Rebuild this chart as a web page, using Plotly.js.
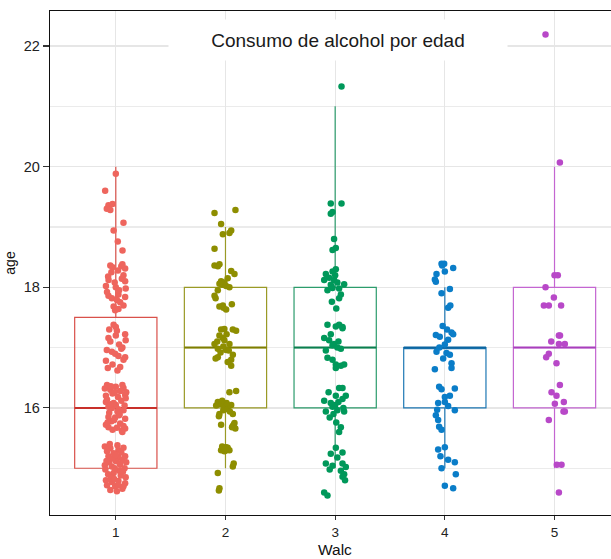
<!DOCTYPE html>
<html>
<head>
<meta charset="utf-8">
<script src="https://cdn.plot.ly/plotly-3.0.1.min.js"></script>
<style>html,body{margin:0;padding:0;background:#fff;}#chart{width:611px;height:559px;}</style>
</head>
<body>
<div id="chart"></div>
<script>
// ---- data ----
const walcLabels = ['1', '2', '3', '4', '5'];
const walcPos = [1, 2, 3, 4, 5];
const q1 = [15, 16, 16, 16, 16];
const medians = [16, 17, 17, 17, 17];
const q3 = [17.5, 18, 18, 17, 18];
const lowerWhisker = [15, 15, 15, 15, 15];
const upperWhisker = [20, 19, 21, 18, 20];

// jittered points: horizontal offset and age
const jit1dx = [0.0,-0.097,-0.067,-0.082,-0.03,0.07,-0.02,0.018,0.061,-0.05,
 -0.05,-0.03,0.05,0.085,-0.07,-0.066,0.07,0.085,0.055,-0.067,-0.036,0.024,0.085,0.01,-0.02,-0.006,0.07,0.024,0.04,-0.09,0.0,0.03,-0.04,0.02,0.09,-0.08,0.06,-0.01,
 -0.02,0.0,0.0,-0.067,0.085,-0.082,-0.036,-0.006,0.024,0.085,0.07,-0.073,0.04,0.03,-0.05,0.06,-0.09,0.01,0.09,-0.03,0.05,-0.06,0.015,
 -0.1,-0.05,0.0,0.07,-0.09,0.085,-0.08,0.04,-0.03,0.02,-0.067,0.024,-0.036,0.07,0.0,-0.09,0.05,-0.02,0.08,-0.06,-0.067,-0.006,0.085,0.03,-0.04,-0.067,0.01,0.085,0.055,-0.03,-0.09,0.04,-0.08,0.09,-0.01,0.06,-0.05,0.015,-0.075,0.07,0.095,-0.045,0.035,-0.015,0.06,
 -0.1,-0.05,0.024,0.07,-0.067,0.024,0.085,-0.1,-0.036,0.04,-0.09,-0.036,0.024,0.085,-0.006,-0.08,0.01,0.06,-0.05,0.09,-0.02,0.0,-0.06,0.06,0.05,-0.08,0.03,-0.02,0.08,-0.07,0.015,-0.03,0.095,-0.095,0.045,-0.045,0.07,-0.015,0.0,0.035,-0.055,0.065,-0.085,0.02,-0.01];
const jit1age = [19.88,19.60,19.36,19.30,19.38,19.07,18.94,18.76,18.61,19.28,
 18.36,18.33,18.35,18.31,18.18,18.12,18.20,18.10,18.14,17.86,17.82,17.88,17.84,17.79,17.68,17.62,17.70,17.64,17.75,18.02,18.00,17.95,18.25,18.28,17.98,17.92,18.38,18.08,
 17.38,17.34,17.20,17.16,17.22,16.96,16.93,16.90,16.86,16.84,16.80,16.66,16.68,17.05,17.10,17.00,16.78,17.28,17.12,16.72,16.98,17.30,16.62,
 16.32,16.30,16.35,16.33,16.20,16.22,16.38,16.28,16.24,16.18,16.02,15.98,16.00,15.96,16.05,16.10,16.12,16.08,16.04,15.92,15.85,15.84,15.82,15.88,15.78,15.68,15.67,15.66,15.62,15.64,15.72,15.74,16.14,16.16,16.26,16.38,16.06,15.94,15.76,15.70,16.26,16.36,15.90,15.80,15.60,
 15.36,15.33,15.30,15.34,15.20,15.18,15.20,15.05,15.03,15.06,14.80,14.77,14.79,14.75,14.70,14.72,14.62,14.66,14.64,14.85,15.25,15.12,15.10,15.14,15.26,15.28,14.96,14.92,15.00,14.90,15.38,15.16,15.10,14.98,14.88,14.84,14.70,14.82,15.22,15.08,15.40,14.94,15.12,14.72,15.00];

const jit2dx = [-0.1,0.091,-0.04,-0.024,0.036,0.052,-0.1,
 -0.1,-0.07,-0.055,0.052,0.082,-0.04,-0.01,-0.024,0.006,0.036,-0.055,-0.1,-0.09,-0.024,-0.018,-0.055,0.058,0.006,0.02,-0.07,
 -0.04,-0.01,0.067,0.097,-0.055,-0.024,-0.01,0.036,-0.1,-0.07,0.006,0.067,-0.09,-0.07,0.052,0.052,-0.02,0.01,-0.045,0.03,-0.075,0.02,
 0.036,0.097,-0.07,-0.04,-0.01,0.052,0.067,-0.055,-0.04,0.067,0.082,0.0,-0.02,0.02,0.09,0.075,-0.085,0.01,-0.03,0.04,-0.06,0.06,
 -0.024,0.006,0.036,-0.04,0.067,-0.07,-0.055,-0.06,0.01,-0.01,0.02,-0.03,0.075,0.0];
const jit2age = [19.23,19.28,19.05,18.88,18.90,18.94,18.64,
 18.36,18.35,18.38,18.27,18.22,18.10,18.08,18.04,18.02,18.00,18.06,17.86,17.82,17.70,17.66,17.68,17.72,17.63,18.15,17.95,
 17.30,17.31,17.30,17.28,17.20,17.16,17.12,17.06,17.06,16.98,16.96,16.88,16.82,16.84,16.80,16.70,17.02,17.22,16.92,16.95,17.10,16.76,
 16.26,16.28,16.10,16.06,16.00,16.05,15.90,15.90,15.72,15.70,15.75,16.02,15.96,15.98,15.66,15.72,16.04,16.08,16.12,15.94,15.86,15.68,
 15.33,15.35,15.30,15.30,15.03,14.92,14.67,14.63,15.30,15.28,15.34,15.36,15.08,15.32];

const jit3dx = [0.058,
 -0.04,0.058,-0.024,-0.04,-0.01,0.006,-0.024,
 0.006,-0.085,-0.024,-0.055,-0.01,-0.1,-0.04,0.082,0.036,-0.024,0.052,0.036,-0.03,0.0,0.02,-0.07,0.01,
 -0.07,0.036,0.067,0.006,0.067,-0.1,-0.055,-0.01,0.02,0.052,-0.085,-0.024,-0.07,-0.024,0.006,0.052,0.082,0.006,-0.04,0.03,
 0.036,0.067,0.006,0.097,-0.1,0.067,-0.024,-0.085,0.02,0.082,0.052,0.036,-0.04,0.0,-0.06,0.03,-0.015,0.075,-0.05,0.01,
 0.006,-0.04,0.067,-0.085,0.067,-0.024,0.097,0.052,0.082,0.067,-0.1,-0.07,0.02,-0.05,0.09];
const jit3age = [21.33,
 19.39,19.39,19.25,19.22,18.80,18.65,18.62,
 18.30,18.22,18.26,18.16,18.12,18.12,18.04,18.05,17.98,17.99,17.88,17.82,17.76,18.20,18.08,17.95,17.65,
 17.38,17.38,17.34,17.35,17.32,17.16,17.12,17.06,17.00,16.98,16.95,17.04,16.83,16.80,16.72,16.70,16.72,16.66,17.22,17.10,
 16.33,16.33,16.20,16.20,16.12,16.15,16.02,15.94,15.96,15.94,15.68,15.60,16.08,16.05,16.26,16.10,15.90,16.00,15.84,15.76,
 15.34,15.24,15.26,15.08,15.08,15.04,15.02,14.96,14.90,14.86,14.60,14.55,15.18,14.98,14.80];

const jit4dx = [-0.03,-0.006,-0.024,0.076,0.0,-0.076,-0.091,-0.082,0.046,-0.03,0.03,0.05,
 -0.02,-0.082,-0.046,0.061,0.076,0.03,-0.076,0.015,0.046,-0.015,0.061,0.061,-0.091,0.0,-0.05,0.02,
 -0.052,-0.03,0.091,0.046,0.0,-0.061,-0.07,0.03,0.091,-0.082,-0.061,-0.052,-0.03,0.0,
 -0.061,0.0,0.03,0.091,-0.03,0.1,0.0,0.076,-0.04];
const jit4age = [18.39,18.39,18.36,18.32,18.26,18.22,18.13,18.09,17.97,17.90,17.66,17.70,
 17.36,17.21,17.18,17.25,17.22,17.13,16.93,16.91,16.88,16.82,16.74,16.66,16.64,17.05,17.00,17.30,
 16.35,16.31,16.32,16.20,16.18,16.08,15.97,16.03,15.96,15.88,15.80,15.69,15.64,16.10,
 15.31,15.35,15.14,15.10,15.00,14.90,14.71,14.67,15.20];

const jit5dx = [-0.082,0.049,0.0,0.03,-0.082,-0.006,-0.097,-0.052,0.06,0.04,0.05,-0.03,0.04,0.094,-0.052,-0.076,0.018,
 0.049,-0.027,0.018,0.085,0.003,0.082,0.094,-0.052,0.021,0.064,0.04];
const jit5age = [22.19,20.07,18.20,18.20,18.00,17.83,17.70,17.70,17.70,17.20,17.20,17.10,17.06,17.06,16.90,16.84,16.74,
 16.38,16.26,16.20,16.10,16.07,15.94,15.94,15.80,15.06,15.06,14.60];

const jitDx = [jit1dx, jit2dx, jit3dx, jit4dx, jit5dx];
const jitAge = [jit1age, jit2age, jit3age, jit4age, jit5age];

// ---- styles ----
const pointColors = ['#EE655D', '#8E8E00', '#00985A', '#0A7DC8', '#B848C8'];
const lineColors = ['#D9514A', '#9A9A26', '#2C9C6C', '#1E78B4', '#C466D1'];
const medianColors = ['#C8302A', '#7E7E00', '#0A7E4E', '#0B65A0', '#A83EBC'];

const traces = [];
for (let i = 0; i < 5; i++) {
  traces.push({
    type: 'box', x: [walcPos[i]], q1: [q1[i]], median: [medians[i]], q3: [q3[i]],
    lowerfence: [lowerWhisker[i]], upperfence: [upperWhisker[i]],
    width: 0.75, whiskerwidth: 0, boxpoints: false,
    line: {color: lineColors[i], width: 1.2},
    fillcolor: 'rgba(255,255,255,0)', hoverinfo: 'skip', showlegend: false
  });
  // thicker median line
  traces.push({
    type: 'box', x: [walcPos[i]], q1: [medians[i]], median: [medians[i]], q3: [medians[i]],
    lowerfence: [medians[i]], upperfence: [medians[i]],
    width: 0.75, whiskerwidth: 0, boxpoints: false,
    line: {color: medianColors[i], width: 2},
    fillcolor: 'rgba(255,255,255,0)', hoverinfo: 'skip', showlegend: false
  });
}
for (let i = 0; i < 5; i++) {
  traces.push({
    type: 'scatter', mode: 'markers',
    x: jitDx[i].map(d => walcPos[i] + d),
    y: jitAge[i],
    marker: {color: pointColors[i], size: 6.5, line: {width: 0}},
    hoverinfo: 'skip', showlegend: false
  });
}

const font = 'Liberation Sans, Arial, sans-serif';
const layout = {
  width: 611, height: 559,
  margin: {l: 50, r: 0, t: 11, b: 44},
  paper_bgcolor: '#ffffff', plot_bgcolor: '#ffffff',
  boxmode: 'overlay', showlegend: false,
  font: {family: font, color: '#222'},
  xaxis: {
    range: [0.4, 5.515], tickvals: walcPos, ticktext: walcLabels,
    showgrid: true, gridcolor: '#E6E6E6', gridwidth: 1.2, zeroline: false,
    showline: true, linecolor: '#111', linewidth: 1.3, mirror: true,
    ticks: 'outside', ticklen: 4, tickcolor: '#333', tickwidth: 1.1,
    tickfont: {family: font, size: 13.5, color: '#222'},
    automargin: false
  },
  yaxis: {
    range: [14.225, 22.58], tick0: 0, dtick: 2,
    showgrid: true, gridcolor: '#E6E6E6', gridwidth: 1.2, zeroline: false,
    minor: {dtick: 1, showgrid: true, gridcolor: '#EBEBEB', gridwidth: 1.2, ticks: ''},
    showline: true, linecolor: '#111', linewidth: 1.3,
    ticks: 'outside', ticklen: 6, tickcolor: '#333', tickwidth: 1.1,
    tickfont: {family: font, size: 14.5, color: '#222'},
    title: {text: 'age', font: {family: font, size: 14, color: '#111'}, standoff: 4},
    automargin: false
  },
  annotations: [{
    text: 'Consumo de alcohol por edad',
    xref: 'paper', yref: 'paper', x: 0.513, y: 0.9425,
    xanchor: 'center', yanchor: 'middle',
    width: 336, height: 38, bgcolor: '#ffffff',
    showarrow: false, font: {family: font, size: 19, color: '#1a1a1a'}
  }, {
    text: 'Walc',
    xref: 'paper', yref: 'paper', x: 0.508, y: -0.0675,
    xanchor: 'center', yanchor: 'middle', borderpad: 0,
    showarrow: false, font: {family: font, size: 15.5, color: '#111'}
  }]
};

Plotly.newPlot('chart', traces, layout, {displayModeBar: false, staticPlot: true});
</script>
</body>
</html>
